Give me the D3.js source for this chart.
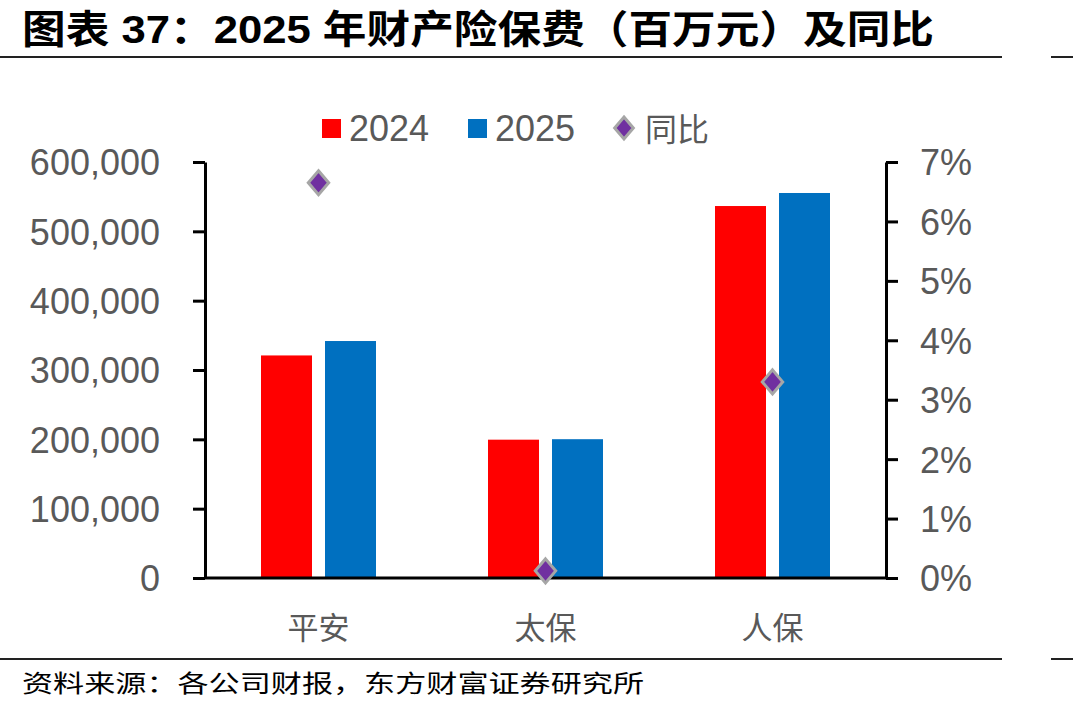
<!DOCTYPE html>
<meta charset="utf-8">
<style>
body{
    margin: 0;
    background: #fff;
}
svg text{
    font-family: "Liberation Sans", "Noto Sans CJK SC", sans-serif;
}
.title{
    font-weight: bold;
    font-size: 39px;
    fill: #000;
}
.source{
    font-family: "Noto Sans CJK SC", sans-serif;
    font-size: 24px;
    fill: #000;
}
.axis path, .axis line{
    stroke: #000;
    stroke-width: 3px;
}
.axis text{
    font-size: 36px;
    fill: #595959;
}
.cat-label{
    font-family: "Noto Sans CJK SC", sans-serif;
    font-size: 31px;
    fill: #595959;
}
.legend text{
    font-size: 36px;
    fill: #595959;
}
.rule{
    stroke: #222;
    stroke-width: 2px;
}
</style>
<svg width="1073" height="711"></svg>
<script src="https://cdnjs.cloudflare.com/ajax/libs/d3/7.8.5/d3.min.js"></script>
<script>

var categories = ['平安', '太保', '人保'];
var series = ['2024', '2025'];
var prem2024 = [321000, 199500, 536500];
var prem2025 = [341800, 200200, 555300];
var yoy = [0.0665, 0.0012, 0.0330];
var leftTicks = [0, 100000, 200000, 300000, 400000, 500000, 600000];
var rightTicks = [0, 0.01, 0.02, 0.03, 0.04, 0.05, 0.06, 0.07];

var colour = {
    '2024': '#ff0000',
    '2025': '#0070c0'
};
var diamondFill = '#7030a0';
var diamondStroke = '#a6a6a6';

var svg = d3.select('svg');
var plot = {left: 205, right: 886, top: 162, bottom: 578};

var x0 = d3.scaleBand()
    .domain(categories)
    .range([plot.left, plot.right]);

var groupW = 115;
var x1 = d3.scaleBand()
    .domain(series)
    .range([(x0.bandwidth() - groupW) / 2, (x0.bandwidth() + groupW) / 2])
    .paddingInner(13 / 64);

var yLeft = d3.scaleLinear().domain([0, 600000]).range([plot.bottom, plot.top]);
var yRight = d3.scaleLinear().domain([0, 0.07]).range([plot.bottom, plot.top]);

// title + rules
svg.append('text')
    .attr('class', 'title')
    .attr('x', 22)
    .attr('y', 43)
    .attr('textLength', 912)
    .attr('lengthAdjust', 'spacingAndGlyphs')
    .text('图表 37：2025 年财产险保费（百万元）及同比');

[57, 659].forEach(function(y){
    svg.append('line').attr('class', 'rule')
        .attr('x1', 0).attr('x2', 1002).attr('y1', y).attr('y2', y);
    svg.append('line').attr('class', 'rule')
        .attr('x1', 1051).attr('x2', 1073).attr('y1', y).attr('y2', y);
});

svg.append('text')
    .attr('class', 'source')
    .attr('x', 22)
    .attr('y', 692)
    .attr('textLength', 622)
    .attr('lengthAdjust', 'spacingAndGlyphs')
    .text('资料来源：各公司财报，东方财富证券研究所');

// bars
var rows = categories.map(function(c, i){
    return {cat: c, values: [
        {key: '2024', value: prem2024[i]},
        {key: '2025', value: prem2025[i]}
    ]};
});

svg.append('g').selectAll('g')
    .data(rows)
    .enter().append('g')
    .attr('transform', function(d){ return 'translate(' + x0(d.cat) + ',0)'; })
    .selectAll('rect')
    .data(function(d){ return d.values; })
    .enter().append('rect')
        .attr('x', function(d){ return x1(d.key); })
        .attr('width', x1.bandwidth())
        .attr('y', function(d){ return yLeft(d.value); })
        .attr('height', function(d){ return plot.bottom - yLeft(d.value); })
        .attr('fill', function(d){ return colour[d.key]; });

// axes
var leftAxis = d3.axisLeft(yLeft)
    .tickValues(leftTicks)
    .tickSize(12)
    .tickSizeOuter(0)
    .tickPadding(33)
    .tickFormat(d3.format(','));

svg.append('g')
    .attr('class', 'axis')
    .attr('transform', 'translate(' + plot.left + ',0)')
    .call(leftAxis);

var rightAxis = d3.axisRight(yRight)
    .tickValues(rightTicks)
    .tickSize(12)
    .tickSizeOuter(0)
    .tickPadding(22)
    .tickFormat(d3.format('.0%'));

svg.append('g')
    .attr('class', 'axis')
    .attr('transform', 'translate(' + plot.right + ',0)')
    .call(rightAxis);

svg.append('g')
    .attr('class', 'axis')
    .append('line')
    .attr('x1', plot.left).attr('x2', plot.right)
    .attr('y1', plot.bottom).attr('y2', plot.bottom);

svg.selectAll('.axis text').attr('dy', '0.36em');

svg.append('g').selectAll('text')
    .data(categories)
    .enter().append('text')
    .attr('class', 'cat-label')
    .attr('text-anchor', 'middle')
    .attr('x', function(d){ return x0(d) + x0.bandwidth() / 2; })
    .attr('y', 639)
    .text(function(d){ return d; });

// yoy diamonds
function diamond(r){
    return 'M0,' + (-r) + 'L' + (r * 0.85) + ',0L0,' + r + 'L' + (-r * 0.85) + ',0Z';
}

svg.append('g').selectAll('path')
    .data(categories)
    .enter().append('path')
    .attr('d', diamond(12))
    .attr('transform', function(d, i){
        return 'translate(' + (x0(d) + x0.bandwidth() / 2) + ',' + yRight(yoy[i]) + ')';
    })
    .attr('fill', diamondFill)
    .attr('stroke', diamondStroke)
    .attr('stroke-width', 3);

// legend
var legend = svg.append('g').attr('class', 'legend');
var legendItems = [
    {label: '2024', x: 322, type: 'rect', colour: colour['2024']},
    {label: '2025', x: 468, type: 'rect', colour: colour['2025']},
    {label: '同比', x: 614, type: 'diamond'}
];

legendItems.forEach(function(d){
    if (d.type == 'rect'){
        legend.append('rect')
            .attr('x', d.x).attr('y', 119)
            .attr('width', 19).attr('height', 19)
            .attr('fill', d.colour);
    } else {
        legend.append('path')
            .attr('d', diamond(11))
            .attr('transform', 'translate(' + (d.x + 10) + ',128)')
            .attr('fill', diamondFill)
            .attr('stroke', diamondStroke)
            .attr('stroke-width', 3);
    }
    legend.append('text')
        .attr('x', d.x + (d.type == 'rect' ? 27 : 31))
        .attr('y', 141)
        .style('font-family', d.type == 'rect' ? null : '"Noto Sans CJK SC", sans-serif')
        .style('font-size', d.type == 'rect' ? null : '32px')
        .text(d.label);
});

</script>
